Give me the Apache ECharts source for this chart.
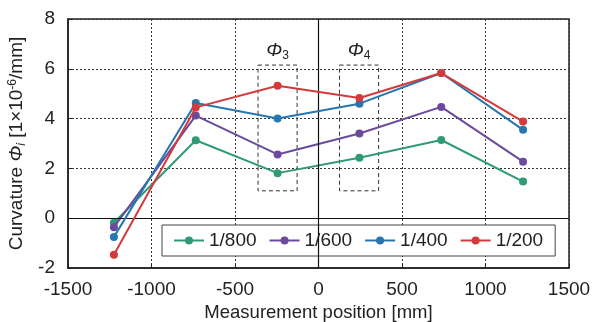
<!DOCTYPE html>
<html>
<head>
<meta charset="utf-8">
<script src="https://cdn.jsdelivr.net/npm/echarts@6/dist/echarts.min.js"></script>
<style>
  html, body { margin: 0; padding: 0; background: #fff; }
  #main { width: 606px; height: 322px; }
</style>
</head>
<body>
<div id="main"></div>
<script>
// measurement positions [mm]
const positions = [-1225, -735, -245, 245, 735, 1225]
// curvature values [1e-6/mm] per drift ratio
const seriesNames = ['1/800', '1/600', '1/400', '1/200']
const v800 = [-0.18, 3.13, 1.81, 2.43, 3.14, 1.47]
const v600 = [-0.36, 4.12, 2.56, 3.4, 4.47, 2.27]
const v400 = [-0.75, 4.63, 4.0, 4.6, 5.83, 3.55]
const v200 = [-1.47, 4.45, 5.32, 4.83, 5.83, 3.88]
const colors = ['#2f9a78', '#6b4a9e', '#2776b0', '#d6393a']
// dashed boxes around the Phi3 / Phi4 sections
const boxLabels = ['3', '4']
const boxX = [[-362, -128], [126, 360]]
const boxY = [1.1, 6.15]
const xTicks = [-1500, 1500, 500]
const yTicks = [-2, 8, 2]

const chartDom = document.getElementById('main')
const myChart = echarts.init(chartDom)
const font = 'Liberation Sans, Arial, sans-serif'

const allValues = [v800, v600, v400, v200]
const series = allValues.map((vals, i) => ({
  name: seriesNames[i],
  type: 'line',
  data: vals.map((v, j) => [positions[j], v]),
  symbol: 'circle',
  symbolSize: 8,
  color: colors[i],
  lineStyle: { width: 2 },
  z: 3 + i
}))

// zero lines + dashed boxes on an empty helper series
series.push({
  name: 'helper',
  type: 'line',
  data: [],
  silent: true,
  z: 1,
  markLine: {
    silent: true,
    symbol: 'none',
    label: { show: false },
    lineStyle: { color: '#111', type: 'solid', width: 1.2 },
    data: [{ xAxis: 0 }, { yAxis: 0 }]
  },
  markArea: {
    silent: true,
    itemStyle: {
      color: 'rgba(0,0,0,0)',
      borderColor: '#333',
      borderWidth: 1,
      borderType: [4, 3]
    },
    label: {
      show: true,
      position: 'top',
      distance: 3,
      color: '#222',
      fontFamily: font,
      rich: {
        phi: { fontSize: 19, fontStyle: 'italic', fontFamily: font, color: '#222' },
        sub: { fontSize: 12, fontFamily: font, color: '#222', verticalAlign: 'bottom', padding: [9, 0, 0, 0] }
      }
    },
    data: boxX.map((bx, i) => [
      { name: '{phi|Φ}{sub|' + boxLabels[i] + '}', xAxis: bx[0], yAxis: boxY[1] },
      { xAxis: bx[1], yAxis: boxY[0] }
    ])
  }
})

const option = {
  animation: false,
  backgroundColor: '#fff',
  textStyle: { fontFamily: font },
  grid: {
    left: 68,
    right: 37,
    top: 19,
    bottom: 54,
    outerBoundsMode: 'none',
    containLabel: false,
    show: true,
    borderColor: '#222',
    borderWidth: 1.5,
    backgroundColor: 'transparent'
  },
  legend: {
    data: seriesNames,
    left: 162,
    top: 225,
    padding: [6, 12, 6, 11],
    itemGap: 12,
    itemWidth: 30,
    itemHeight: 10,
    borderColor: '#444',
    borderWidth: 1,
    backgroundColor: '#fff',
    textStyle: { fontSize: 19, color: '#222', fontFamily: font }
  },
  xAxis: {
    type: 'value',
    min: xTicks[0],
    max: xTicks[1],
    interval: xTicks[2],
    name: 'Measurement position [mm]',
    nameLocation: 'middle',
    nameGap: 33,
    nameTextStyle: { fontSize: 18.5, color: '#222', fontFamily: font },
    axisLine: { onZero: false, lineStyle: { color: '#222', width: 1.5 } },
    axisTick: { show: true, inside: true, length: 4, lineStyle: { color: '#222' } },
    axisLabel: { fontSize: 19, color: '#222', margin: 12, fontFamily: font, formatter: v => String(v) },
    splitLine: { show: true, lineStyle: { color: '#333', type: [2, 2], width: 1 } }
  },
  yAxis: {
    type: 'value',
    min: yTicks[0],
    max: yTicks[1],
    interval: yTicks[2],
    name: 'Curvature {phi|Φ}{sub|i} [1×10{sup|-6}/mm]',
    nameLocation: 'middle',
    nameRotate: 90,
    nameGap: 38,
    nameTextStyle: {
      fontSize: 19,
      color: '#222',
      fontFamily: font,
      rich: {
        phi: { fontSize: 19, fontStyle: 'italic', fontFamily: font, color: '#222' },
        sub: { fontSize: 12, fontStyle: 'italic', fontFamily: font, color: '#222', verticalAlign: 'bottom', padding: [9, 0, 0, 0] },
        sup: { fontSize: 12, fontFamily: font, color: '#222', verticalAlign: 'top', padding: [0, 0, 9, 0] }
      }
    },
    axisLine: { show: true, onZero: false, lineStyle: { color: '#222', width: 1.5 } },
    axisTick: { show: true, inside: true, length: 4, lineStyle: { color: '#222' } },
    axisLabel: { fontSize: 19, color: '#222', margin: 13, fontFamily: font, formatter: v => String(v) },
    splitLine: { show: true, lineStyle: { color: '#333', type: [2, 2], width: 1 } }
  },
  series: series
}

myChart.setOption(option)
</script>
</body>
</html>
